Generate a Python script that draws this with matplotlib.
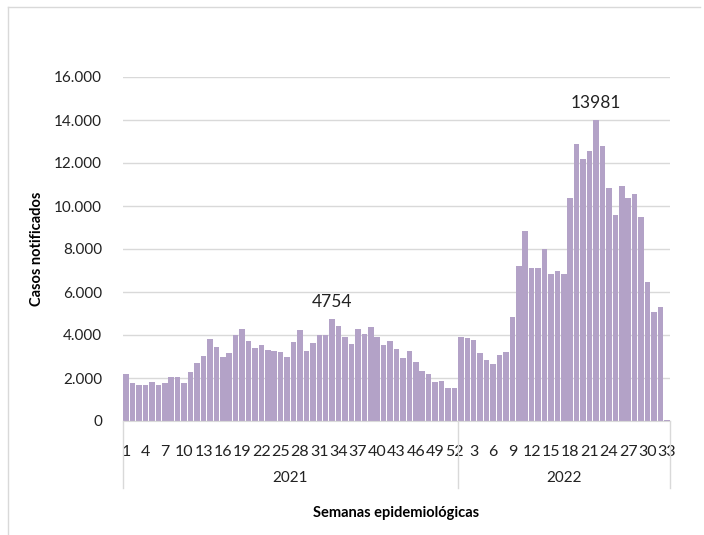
import matplotlib

matplotlib.use("Agg")
import matplotlib.pyplot as plt
from matplotlib.lines import Line2D
from matplotlib.ticker import FuncFormatter

plt.rcParams["font.family"] = ["Lato", "DejaVu Sans"]

# weekly notified cases, epi weeks 1-52 of 2021 and 1-33 of 2022
cases_2021 = [2200, 1780, 1690, 1690, 1830, 1690, 1770, 2060, 2030, 1750,
              2270, 2700, 3030, 3830, 3450, 2970, 3180, 4020, 4290, 3740,
              3380, 3540, 3280, 3250, 3200, 2960, 3670, 4240, 3250, 3640,
              3980, 3980, 4754, 4400, 3900, 3570, 4290, 4040, 4390, 3900,
              3520, 3700, 3340, 2930, 3240, 2760, 2330, 2190, 1830, 1860,
              1550, 1550]
cases_2022 = [3920, 3840, 3780, 3140, 2850, 2660, 3080, 3190, 4840, 7220,
              8840, 7100, 7100, 8000, 6830, 6960, 6830, 10360, 12870, 12200,
              12540, 13981, 12800, 10850, 9570, 10930, 10370, 10570, 9500, 6450,
              5060, 5290, 50]
years = ["2021", "2022"]
y_ticks = [0, 2000, 4000, 6000, 8000, 10000, 12000, 14000, 16000]
peaks = [(33, 2021, 4754), (22, 2022, 13981)]

weeks = [(w, "2021") for w in range(1, len(cases_2021) + 1)] + \
        [(w, "2022") for w in range(1, len(cases_2022) + 1)]
values = cases_2021 + cases_2022
xs = list(range(len(values)))

fig = plt.figure(figsize=(7.04, 5.35), dpi=100)
ax = fig.add_axes([123 / 704, 114 / 535, 547 / 704, 344 / 535])

ax.bar(xs, values, width=0.86, color="#B3A2C7", zorder=2)

ax.set_xlim(-0.5, len(values) - 0.5)
ax.set_ylim(0, 16000)
ax.set_yticks(y_ticks)
ax.yaxis.set_major_formatter(FuncFormatter(lambda v, _: f"{int(v):,}".replace(",", ".")))
ax.grid(axis="y", color="#D9D9D9", linewidth=1.0, zorder=0)
ax.tick_params(axis="y", length=0, pad=15, labelsize=11, labelcolor="#222222")

# week labels every third category, like Excel does
tick_pos = xs[::3]
ax.set_xticks(tick_pos)
ax.set_xticklabels([str(weeks[i][0]) for i in tick_pos])
ax.tick_params(axis="x", length=0, pad=17, labelsize=11.5, labelcolor="#222222")

for s in ("top", "right", "left"):
    ax.spines[s].set_visible(False)
ax.spines["bottom"].set_color("#D9D9D9")

# year group separators and labels
n21 = len(cases_2021)
for xb in (-0.5, n21 - 0.5, len(values) - 0.5):
    ax.add_line(Line2D([xb, xb], [0, -0.195], transform=ax.get_xaxis_transform(),
                       color="#D9D9D9", linewidth=1.0, clip_on=False))
centers = [(n21 - 1) / 2, n21 + (len(cases_2022) - 1) / 2]
for cx, yr in zip(centers, years):
    ax.text(cx, -0.166, yr, transform=ax.get_xaxis_transform(),
            ha="center", va="center", fontsize=11, color="#222222")

# peak annotations
for wk, yr, val in peaks:
    idx = wk - 1 if yr == 2021 else n21 + wk - 1
    ax.text(idx, val + 420, str(val), ha="center", va="bottom",
            fontsize=12.5, color="#222222")

ax.set_ylabel("Casos notificados", fontsize=10.5, fontweight="bold", labelpad=7)
fig.text(0.5 * (123 + 670) / 704, 1 - 513 / 535, "Semanas epidemiológicas",
         ha="center", va="center", fontsize=10.5, fontweight="bold")

# light chart-area frame
fig.add_artist(Line2D([8 / 704, 700 / 704], [1 - 7 / 535, 1 - 7 / 535],
                      transform=fig.transFigure, color="#D9D9D9", linewidth=1.0))
fig.add_artist(Line2D([8 / 704, 8 / 704], [1 - 7 / 535, 0], transform=fig.transFigure,
                      color="#D9D9D9", linewidth=1.0))

fig.savefig("out.png", dpi=100)
